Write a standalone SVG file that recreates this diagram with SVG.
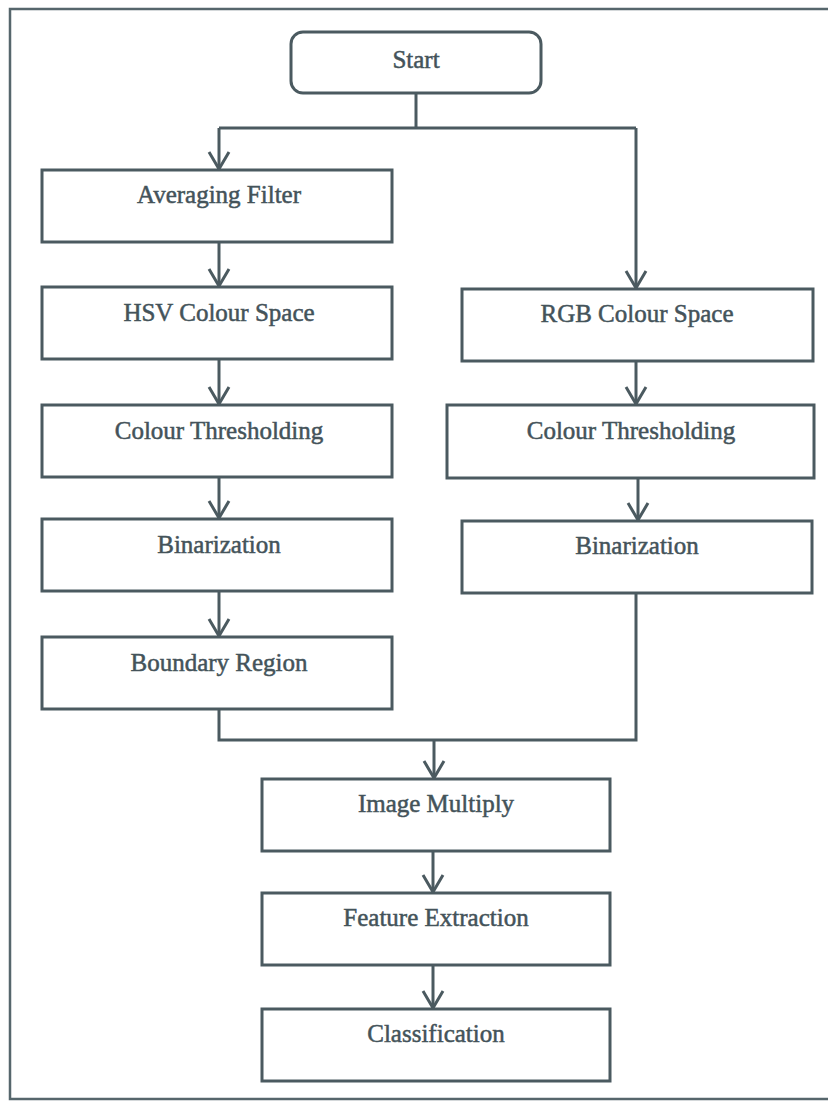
<svg xmlns="http://www.w3.org/2000/svg" width="828" height="1101" viewBox="0 0 828 1101">
<style>
.box{fill:#ffffff;stroke:#4b5a60;stroke-width:3}
.lbl{font-family:"Liberation Serif","Times New Roman",serif;font-size:25px;fill:#44535a;stroke:#44535a;stroke-width:0.5;text-anchor:middle}
.con{fill:none;stroke:#4b5a60;stroke-width:3}
</style>
<defs>
<marker id="arr" markerUnits="userSpaceOnUse" viewBox="-20 -12 22 24" refX="0" refY="0" markerWidth="22" markerHeight="24" orient="auto">
<path d="M-17,-10 L0,0 L-17,10" fill="none" stroke="#4b5a60" stroke-width="3"/>
</marker>
</defs>
<rect x="0" y="0" width="828" height="1101" fill="#ffffff"/>
<rect x="10" y="9" width="840" height="1090" fill="none" stroke="#56666c" stroke-width="2.5"/>
<g id="connectors">
<path class="con" d="M416,92 V128"/>
<path class="con" d="M219,128 H636"/>
<path class="con" d="M219,128 V169" marker-end="url(#arr)"/>
<path class="con" d="M636,128 V288" marker-end="url(#arr)"/>
<path class="con" d="M219,242 V286" marker-end="url(#arr)"/>
<path class="con" d="M219,359 V404" marker-end="url(#arr)"/>
<path class="con" d="M219,477 V518" marker-end="url(#arr)"/>
<path class="con" d="M219,591 V636" marker-end="url(#arr)"/>
<path class="con" d="M636,361 V404" marker-end="url(#arr)"/>
<path class="con" d="M638,478 V520" marker-end="url(#arr)"/>
<path class="con" d="M219,709 V740 H636 V593"/>
<path class="con" d="M434,740 V778" marker-end="url(#arr)"/>
<path class="con" d="M433,851 V892" marker-end="url(#arr)"/>
<path class="con" d="M433,965 V1008" marker-end="url(#arr)"/>
</g>
<g id="start"><rect class="box" x="291" y="32" width="250" height="61" rx="12"/><text class="lbl" x="416" y="68">Start</text></g>
<g id="averaging"><rect class="box" x="42" y="170" width="350" height="72"/><text class="lbl" x="219" y="203">Averaging Filter</text></g>
<g id="hsv"><rect class="box" x="42" y="287" width="350" height="72"/><text class="lbl" x="219" y="321">HSV Colour Space</text></g>
<g id="threshold-left"><rect class="box" x="42" y="405" width="350" height="72"/><text class="lbl" x="219" y="439">Colour Thresholding</text></g>
<g id="binarization-left"><rect class="box" x="42" y="519" width="350" height="72"/><text class="lbl" x="219" y="553">Binarization</text></g>
<g id="boundary"><rect class="box" x="42" y="637" width="350" height="72"/><text class="lbl" x="219" y="671">Boundary Region</text></g>
<g id="rgb"><rect class="box" x="462" y="289" width="351" height="72"/><text class="lbl" x="637" y="322">RGB Colour Space</text></g>
<g id="threshold-right"><rect class="box" x="447" y="405" width="367" height="73"/><text class="lbl" x="631" y="439">Colour Thresholding</text></g>
<g id="binarization-right"><rect class="box" x="462" y="521" width="350" height="72"/><text class="lbl" x="637" y="554">Binarization</text></g>
<g id="multiply"><rect class="box" x="262" y="779" width="348" height="72"/><text class="lbl" x="436" y="812">Image Multiply</text></g>
<g id="feature"><rect class="box" x="262" y="893" width="348" height="72"/><text class="lbl" x="436" y="926">Feature Extraction</text></g>
<g id="classification"><rect class="box" x="262" y="1009" width="348" height="72"/><text class="lbl" x="436" y="1042">Classification</text></g>
</svg>
